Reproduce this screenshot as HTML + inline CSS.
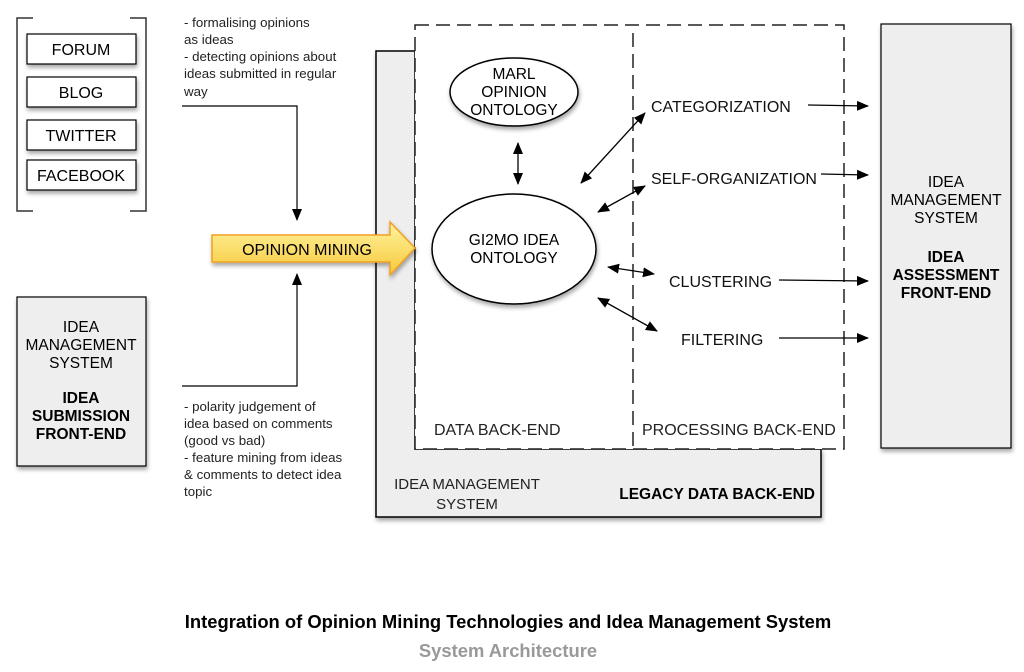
<!DOCTYPE html>
<html><head><meta charset="utf-8"><style>
html,body{margin:0;padding:0;background:#fff;}
svg{display:block;font-family:"Liberation Sans",sans-serif;}
</style></head><body>
<svg width="1024" height="672" viewBox="0 0 1024 672" xmlns="http://www.w3.org/2000/svg">
<defs>
<marker id="a" markerWidth="12" markerHeight="12" refX="11" refY="6" orient="auto-start-reverse" markerUnits="userSpaceOnUse"><path d="M0,1 L12,6 L0,11 Z" fill="#000"/></marker>
<linearGradient id="y" x1="0" y1="0" x2="0" y2="1"><stop offset="0" stop-color="#fff3a0"/><stop offset="1" stop-color="#f7c93a"/></linearGradient>
<filter id="s" x="-20%" y="-20%" width="150%" height="150%"><feDropShadow dx="1" dy="3" stdDeviation="2" flood-opacity="0.35"/></filter>
</defs>
<path d="M33,18 H17 V211 H33 M130,18 H146 V211 H130" fill="none" stroke="#333" stroke-width="1.5"/>
<g fill="#fff" stroke="#000" stroke-width="1.2" filter="url(#s)">
<rect x="27" y="34" width="109" height="30"/>
<rect x="27" y="77" width="109" height="30"/>
<rect x="27" y="120" width="109" height="30"/>
<rect x="27" y="160" width="109" height="30"/>
</g>
<g font-size="16" text-anchor="middle">
<text x="81" y="55">FORUM</text><text x="81" y="98">BLOG</text><text x="81" y="141">TWITTER</text><text x="81" y="181">FACEBOOK</text>
</g>
<rect x="17" y="297" width="129" height="169" fill="#eee" stroke="#000" stroke-width="1.2" filter="url(#s)"/>
<g font-size="15.5" text-anchor="middle">
<text x="81" y="332">IDEA</text><text x="81" y="350">MANAGEMENT</text><text x="81" y="368">SYSTEM</text>
<text x="81" y="403" font-weight="bold">IDEA</text><text x="81" y="421" font-weight="bold">SUBMISSION</text><text x="81" y="439" font-weight="bold">FRONT-END</text>
</g>
<g font-size="13.3" fill="#222">
<text x="184" y="27">- formalising opinions</text><text x="184" y="44">as ideas</text>
<text x="184" y="61">- detecting opinions about</text><text x="184" y="78">ideas submitted in regular</text><text x="184" y="96">way</text>
<text x="184" y="411">- polarity judgement of</text><text x="184" y="428">idea based on comments</text><text x="184" y="445">(good vs bad)</text>
<text x="184" y="462">- feature mining from ideas</text><text x="184" y="479">&amp; comments to detect idea</text><text x="184" y="496">topic</text>
</g>
<path d="M182,106 H297 V220" fill="none" stroke="#000" stroke-width="1.2" marker-end="url(#a)"/>
<path d="M182,386 H297 V274" fill="none" stroke="#000" stroke-width="1.2" marker-end="url(#a)"/>
<path d="M376,51 H415 V449 H821 V517 H376 Z" fill="#eee" stroke="#000" stroke-width="1.5" filter="url(#s)"/>
<text x="467" y="489" font-size="15" text-anchor="middle" fill="#222">IDEA MANAGEMENT</text>
<text x="467" y="509" font-size="15" text-anchor="middle" fill="#222">SYSTEM</text>
<text x="815" y="499" font-size="15.5" font-weight="bold" text-anchor="end">LEGACY DATA BACK-END</text>
<rect x="415" y="25" width="429" height="424" fill="#fff" stroke="#222" stroke-width="1.5" stroke-dasharray="14,7"/>
<line x1="633" y1="33" x2="633" y2="449" stroke="#222" stroke-width="1.5" stroke-dasharray="14,7"/>
<text x="434" y="435" font-size="16" fill="#222">DATA BACK-END</text>
<text x="642" y="435" font-size="16" fill="#222">PROCESSING BACK-END</text>
<path d="M212,235 H390 V222 L415,248 L390,275 V262 H212 Z" fill="url(#y)" stroke="#f0a020" stroke-width="1.5" filter="url(#s)"/>
<text x="307" y="255" font-size="16" text-anchor="middle">OPINION MINING</text>
<ellipse cx="514" cy="92" rx="64" ry="34" fill="#fff" stroke="#000" stroke-width="1.5" filter="url(#s)"/>
<g font-size="15.5" text-anchor="middle"><text x="514" y="79">MARL</text><text x="514" y="97">OPINION</text><text x="514" y="115">ONTOLOGY</text></g>
<ellipse cx="514" cy="249" rx="82" ry="55" fill="#fff" stroke="#000" stroke-width="1.5" filter="url(#s)"/>
<g font-size="15.5" text-anchor="middle"><text x="514" y="245">GI2MO IDEA</text><text x="514" y="263">ONTOLOGY</text></g>
<g stroke="#000" stroke-width="1.3" marker-start="url(#a)" marker-end="url(#a)">
<line x1="518" y1="143" x2="518" y2="184"/>
<line x1="581" y1="183" x2="645" y2="113"/>
<line x1="598" y1="212" x2="645" y2="186"/>
<line x1="608" y1="267" x2="654" y2="274"/>
<line x1="598" y1="298" x2="657" y2="331"/>
</g>
<g font-size="16" fill="#111">
<text x="651" y="112">CATEGORIZATION</text>
<text x="651" y="184">SELF-ORGANIZATION</text>
<text x="669" y="287">CLUSTERING</text>
<text x="681" y="345">FILTERING</text>
</g>
<g stroke="#000" stroke-width="1.3" marker-end="url(#a)">
<line x1="808" y1="105" x2="868" y2="106"/>
<line x1="821" y1="174" x2="868" y2="175"/>
<line x1="779" y1="280" x2="868" y2="281"/>
<line x1="779" y1="338" x2="868" y2="338"/>
</g>
<rect x="881" y="24" width="130" height="424" fill="#eee" stroke="#000" stroke-width="1.2" filter="url(#s)"/>
<g font-size="15.5" text-anchor="middle">
<text x="946" y="187">IDEA</text><text x="946" y="205">MANAGEMENT</text><text x="946" y="223">SYSTEM</text>
<text x="946" y="262" font-weight="bold">IDEA</text><text x="946" y="280" font-weight="bold">ASSESSMENT</text><text x="946" y="298" font-weight="bold">FRONT-END</text>
</g>
<text x="508" y="628" font-size="18.4" font-weight="bold" text-anchor="middle">Integration of Opinion Mining Technologies and Idea Management System</text>
<text x="508" y="657" font-size="18.4" font-weight="bold" text-anchor="middle" fill="#999">System Architecture</text>
</svg>
</body></html>
